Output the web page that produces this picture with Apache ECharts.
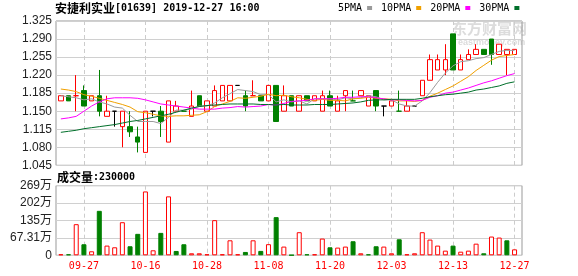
<!DOCTYPE html>
<html><head><meta charset="utf-8">
<script src="https://cdn.jsdelivr.net/npm/echarts@6/dist/echarts.min.js"></script>
<style>html,body{margin:0;padding:0;background:#fff}#c{width:578px;height:276px}</style>
</head><body><div id="c"></div>
<script>
const dates = ['09-24','09-25','09-26','09-27','09-30','10-03','10-04','10-08','10-10','10-11',
 '10-15','10-16','10-17','10-18','10-21','10-22','10-23','10-24','10-25','10-28',
 '10-29','10-30','10-31','11-01','11-04','11-05','11-07','11-08','11-11','11-12',
 '11-13','11-14','11-15','11-18','11-19','11-20','11-21','11-22','11-25','11-26',
 '11-28','11-29','12-02','12-03','12-04','12-05','12-06','12-09','12-10','12-11',
 '12-12','12-13','12-16','12-17','12-18','12-19','12-20','12-23','12-24','12-27'];
const opens = [1.17,1.18,1.18,1.19,1.17,1.18,1.14,1.15,1.12,1.12,
 1.10,1.07,1.15,1.15,1.09,1.15,1.15,1.14,1.18,1.15,
 1.16,1.17,1.17,1.20,1.18,1.18,1.18,1.17,1.20,1.15,
 1.18,1.15,1.18,1.17,1.15,1.18,1.15,1.18,1.17,1.18,
 1.16,1.19,1.16,1.16,1.15,1.15,1.16,1.18,1.21,1.23,
 1.23,1.30,1.23,1.25,1.26,1.27,1.29,1.26,1.26,1.26];
const closes = [1.18,1.17,1.18,1.16,1.18,1.15,1.15,1.15,1.15,1.11,
 1.09,1.15,1.15,1.13,1.17,1.16,1.15,1.16,1.16,1.17,
 1.19,1.20,1.20,1.20,1.16,1.18,1.17,1.20,1.13,1.18,
 1.16,1.18,1.17,1.18,1.18,1.16,1.17,1.19,1.17,1.19,
 1.18,1.16,1.16,1.17,1.15,1.16,1.16,1.21,1.25,1.25,
 1.25,1.23,1.25,1.26,1.27,1.26,1.26,1.28,1.27,1.27];
const lows = [1.17,1.17,1.15,1.16,1.17,1.14,1.14,1.12,1.08,1.10,
 1.07,1.07,1.14,1.10,1.09,1.15,1.15,1.14,1.16,1.15,
 1.16,1.17,1.17,1.20,1.15,1.18,1.17,1.17,1.13,1.15,
 1.16,1.15,1.17,1.17,1.15,1.16,1.15,1.15,1.17,1.18,
 1.16,1.15,1.14,1.16,1.15,1.15,1.16,1.18,1.21,1.23,
 1.22,1.23,1.23,1.25,1.26,1.26,1.24,1.26,1.22,1.26];
const highs = [1.18,1.18,1.22,1.20,1.18,1.23,1.18,1.15,1.15,1.15,
 1.12,1.15,1.15,1.16,1.17,1.17,1.15,1.19,1.18,1.17,
 1.20,1.20,1.20,1.20,1.19,1.21,1.18,1.20,1.20,1.20,
 1.18,1.18,1.18,1.18,1.19,1.19,1.18,1.19,1.19,1.19,
 1.18,1.19,1.16,1.17,1.19,1.17,1.16,1.21,1.26,1.26,
 1.28,1.30,1.26,1.27,1.28,1.27,1.29,1.28,1.27,1.27];
const volumes = [40000,40000,1204000,427000,155000,1720000,375000,310000,1280000,350000,
 830000,2470000,194000,867000,2280000,168000,427000,78000,78000,39000,
 1360000,39000,580000,39000,130000,580000,170000,430000,1476000,337000,
 10000,893000,39000,39000,647000,310000,298000,337000,544000,78000,
 39000,350000,337000,78000,620000,39000,78000,893000,608000,375000,
 180000,375000,140000,180000,450000,78000,725000,686000,580000,230000];
const ma5 = [1.180,1.178,1.176,1.172,1.174,1.168,1.164,1.158,1.156,1.142,
 1.130,1.130,1.130,1.126,1.138,1.152,1.152,1.154,1.160,1.160,
 1.166,1.176,1.184,1.192,1.190,1.188,1.182,1.182,1.168,1.172,
 1.168,1.170,1.164,1.174,1.174,1.174,1.172,1.176,1.174,1.176,
 1.180,1.178,1.172,1.172,1.164,1.160,1.160,1.170,1.186,1.206,
 1.224,1.238,1.246,1.248,1.252,1.254,1.260,1.266,1.268,1.268];
const ma10 = [1.193,1.191,1.188,1.182,1.179,1.175,1.171,1.167,1.163,1.158,
 1.149,1.147,1.144,1.141,1.140,1.141,1.141,1.142,1.143,1.149,
 1.159,1.164,1.169,1.176,1.175,1.177,1.179,1.183,1.180,1.181,
 1.178,1.176,1.173,1.171,1.173,1.171,1.171,1.170,1.174,1.175,
 1.177,1.175,1.174,1.173,1.170,1.170,1.169,1.171,1.179,1.185,
 1.192,1.199,1.208,1.217,1.229,1.239,1.249,1.256,1.258,1.260];
const ma20 = [1.135,1.137,1.140,1.150,1.160,1.168,1.174,1.176,1.176,1.176,
 1.175,1.172,1.168,1.164,1.162,1.160,1.158,1.156,1.154,1.154,
 1.154,1.156,1.157,1.159,1.158,1.159,1.160,1.163,1.162,1.165,
 1.169,1.170,1.171,1.174,1.174,1.174,1.175,1.177,1.177,1.178,
 1.178,1.176,1.174,1.172,1.172,1.171,1.170,1.171,1.177,1.180,
 1.185,1.187,1.191,1.195,1.200,1.205,1.209,1.214,1.219,1.223];
const ma30 = [1.109,1.111,1.113,1.116,1.118,1.120,1.122,1.124,1.127,1.130,
 1.132,1.135,1.138,1.141,1.144,1.148,1.152,1.156,1.159,1.161,
 1.162,1.163,1.164,1.164,1.164,1.164,1.163,1.163,1.162,1.163,
 1.162,1.162,1.162,1.163,1.163,1.163,1.164,1.165,1.166,1.168,
 1.171,1.172,1.172,1.173,1.173,1.173,1.173,1.175,1.178,1.180,
 1.182,1.183,1.185,1.187,1.191,1.193,1.196,1.199,1.204,1.207];
const priceTicks = ['1.045','1.080','1.115','1.150','1.185','1.220','1.255','1.290','1.325'];
const volTicks = ['0','67.31万','135万','202万','269万'];
const priceMin = 1.045, priceMax = 1.325, volMax = 2692400;
const stockName = '安捷利实业', stockCode = '[01639] 2019-12-27 16:00';

const RED = '#ff0000', GREEN = '#008000', BLACK = '#000000';
const candleData = dates.map((d, i) => {
  const o = opens[i], c = closes[i];
  let fill, border;
  if (c > o) { fill = '#ffffff'; border = RED; }
  else if (c < o) { fill = GREEN; border = GREEN; }
  else {
    const p = i > 0 ? closes[i - 1] : c;
    border = c > p ? RED : (c < p ? GREEN : BLACK); fill = border;
  }
  return { value: [o, c, lows[i], highs[i]],
    itemStyle: { color: fill, color0: fill, borderColor: border, borderColor0: border, borderColorDoji: border } };
});
const volData = volumes.map((v, i) => {
  const up = i === 0 || closes[i] >= closes[i - 1];
  return { value: v, itemStyle: up ? { color: '#ffffff', borderColor: RED, borderWidth: 1 }
                                   : { color: GREEN, borderColor: GREEN, borderWidth: 1 } };
});
const showIdx = (i) => i % 8 === 3;
const mono = '"DejaVu Sans Mono", "Liberation Mono", monospace';
const vSplit = { show: true, interval: showIdx, alignWithLabel: true,
  lineStyle: { color: '#cccccc', type: [4, 3], width: 1 } };

const chart = echarts.init(document.getElementById('c'), null, { renderer: 'canvas' });
chart.setOption({
  animation: false,
  backgroundColor: '#ffffff',
  title: [
    { text: '{a|' + stockName + '}{b|' + stockCode + '}', left: 55, top: 2, padding: 0,
      textStyle: { rich: { a: { fontFamily: '"Noto Sans CJK SC"', fontSize: 12, color: '#000' },
                           b: { fontFamily: mono, fontSize: 10, color: '#000' } } } },
    { text: '{a|成交量}{b|:' + volumes[volumes.length - 1] + '}', left: 57, top: 171, padding: 0,
      textStyle: { rich: { a: { fontFamily: '"Noto Sans CJK SC"', fontSize: 12, color: '#000' },
                           b: { fontFamily: mono, fontSize: 10, color: '#000' } } } }
  ],
  legend: {
    left: 338, top: 3, align: 'right', icon: 'rect', itemWidth: 5, itemHeight: 4, itemGap: 9,
    padding: 0, selectedMode: false,
    textStyle: { fontFamily: mono, fontSize: 10, color: '#000' },
    data: ['5PMA', '10PMA', '20PMA', '30PMA']
  },
  graphic: [
    { type: 'text', left: 452, top: 21, z: -1, silent: true,
      style: { text: '东方财富网', fill: '#dcdcdc', font: 'bold 15px "Noto Sans CJK SC"' } },
    { type: 'text', left: 458, top: 38, z: -1, silent: true,
      style: { text: 'eastmoney.com', fill: '#dcdcdc', font: 'bold 9px "Liberation Sans"' } }
  ],
  grid: [
    { left: 57, top: 21, width: 461.4, height: 144.3 },
    { left: 57, top: 185.7, width: 461.4, height: 69.6 },
    { left: 56, top: 21, width: 466, height: 144.3, show: true, borderColor: '#999', borderWidth: 1, backgroundColor: 'transparent' },
    { left: 56, top: 185.7, width: 466, height: 69.6, show: true, borderColor: '#999', borderWidth: 1, backgroundColor: 'transparent' }
  ],
  xAxis: [
    { type: 'category', gridIndex: 0, data: dates, boundaryGap: true,
      axisLine: { show: false }, axisTick: { show: false }, axisLabel: { show: false }, splitLine: vSplit },
    { type: 'category', gridIndex: 1, data: dates, boundaryGap: true,
      axisLine: { show: false }, axisTick: { show: false },
      axisLabel: { show: true, interval: showIdx, color: RED, fontFamily: mono, fontSize: 10, margin: 6 },
      splitLine: vSplit },
    { type: 'value', gridIndex: 2, min: 0, max: 1, show: false },
    { type: 'value', gridIndex: 3, min: 0, max: 1, show: false }
  ],
  yAxis: [
    { type: 'value', gridIndex: 0, min: priceMin, max: priceMax, show: false },
    { type: 'value', gridIndex: 1, min: 0, max: volMax, show: false },
    { type: 'value', gridIndex: 2, min: 0, max: priceTicks.length - 1, interval: 1,
      axisLine: { show: false }, axisTick: { show: false },
      axisLabel: { formatter: (v) => priceTicks[v], color: '#222', fontFamily: '"Liberation Sans"', fontSize: 12, margin: 4 },
      splitLine: { show: true, lineStyle: { color: '#d0d0d0', width: 1 } } },
    { type: 'value', gridIndex: 3, min: 0, max: volTicks.length - 1, interval: 1,
      axisLine: { show: false }, axisTick: { show: false },
      axisLabel: { formatter: (v) => volTicks[v], color: '#222', fontFamily: '"Liberation Sans", "Noto Sans CJK SC"', fontSize: 12, margin: 4 },
      splitLine: { show: true, lineStyle: { color: '#d0d0d0', width: 1 } } }
  ],
  series: [
    { type: 'candlestick', name: 'K', xAxisIndex: 0, yAxisIndex: 0, data: candleData, barWidth: 5,
      itemStyle: { borderWidth: 1 } },
    { type: 'line', name: '5PMA', xAxisIndex: 0, yAxisIndex: 0, data: ma5, symbol: 'none',
      lineStyle: { color: '#9a9a9a', width: 1 }, itemStyle: { color: '#9a9a9a' } },
    { type: 'line', name: '10PMA', xAxisIndex: 0, yAxisIndex: 0, data: ma10, symbol: 'none',
      lineStyle: { color: '#f0a000', width: 1 }, itemStyle: { color: '#f0a000' } },
    { type: 'line', name: '20PMA', xAxisIndex: 0, yAxisIndex: 0, data: ma20, symbol: 'none',
      lineStyle: { color: '#ff00ff', width: 1 }, itemStyle: { color: '#ff00ff' } },
    { type: 'line', name: '30PMA', xAxisIndex: 0, yAxisIndex: 0, data: ma30, symbol: 'none',
      lineStyle: { color: '#006f2a', width: 1 }, itemStyle: { color: '#006f2a' } },
    { type: 'bar', name: 'VOL', xAxisIndex: 1, yAxisIndex: 1, data: volData, barWidth: 5 }
  ]
});
</script></body></html>
